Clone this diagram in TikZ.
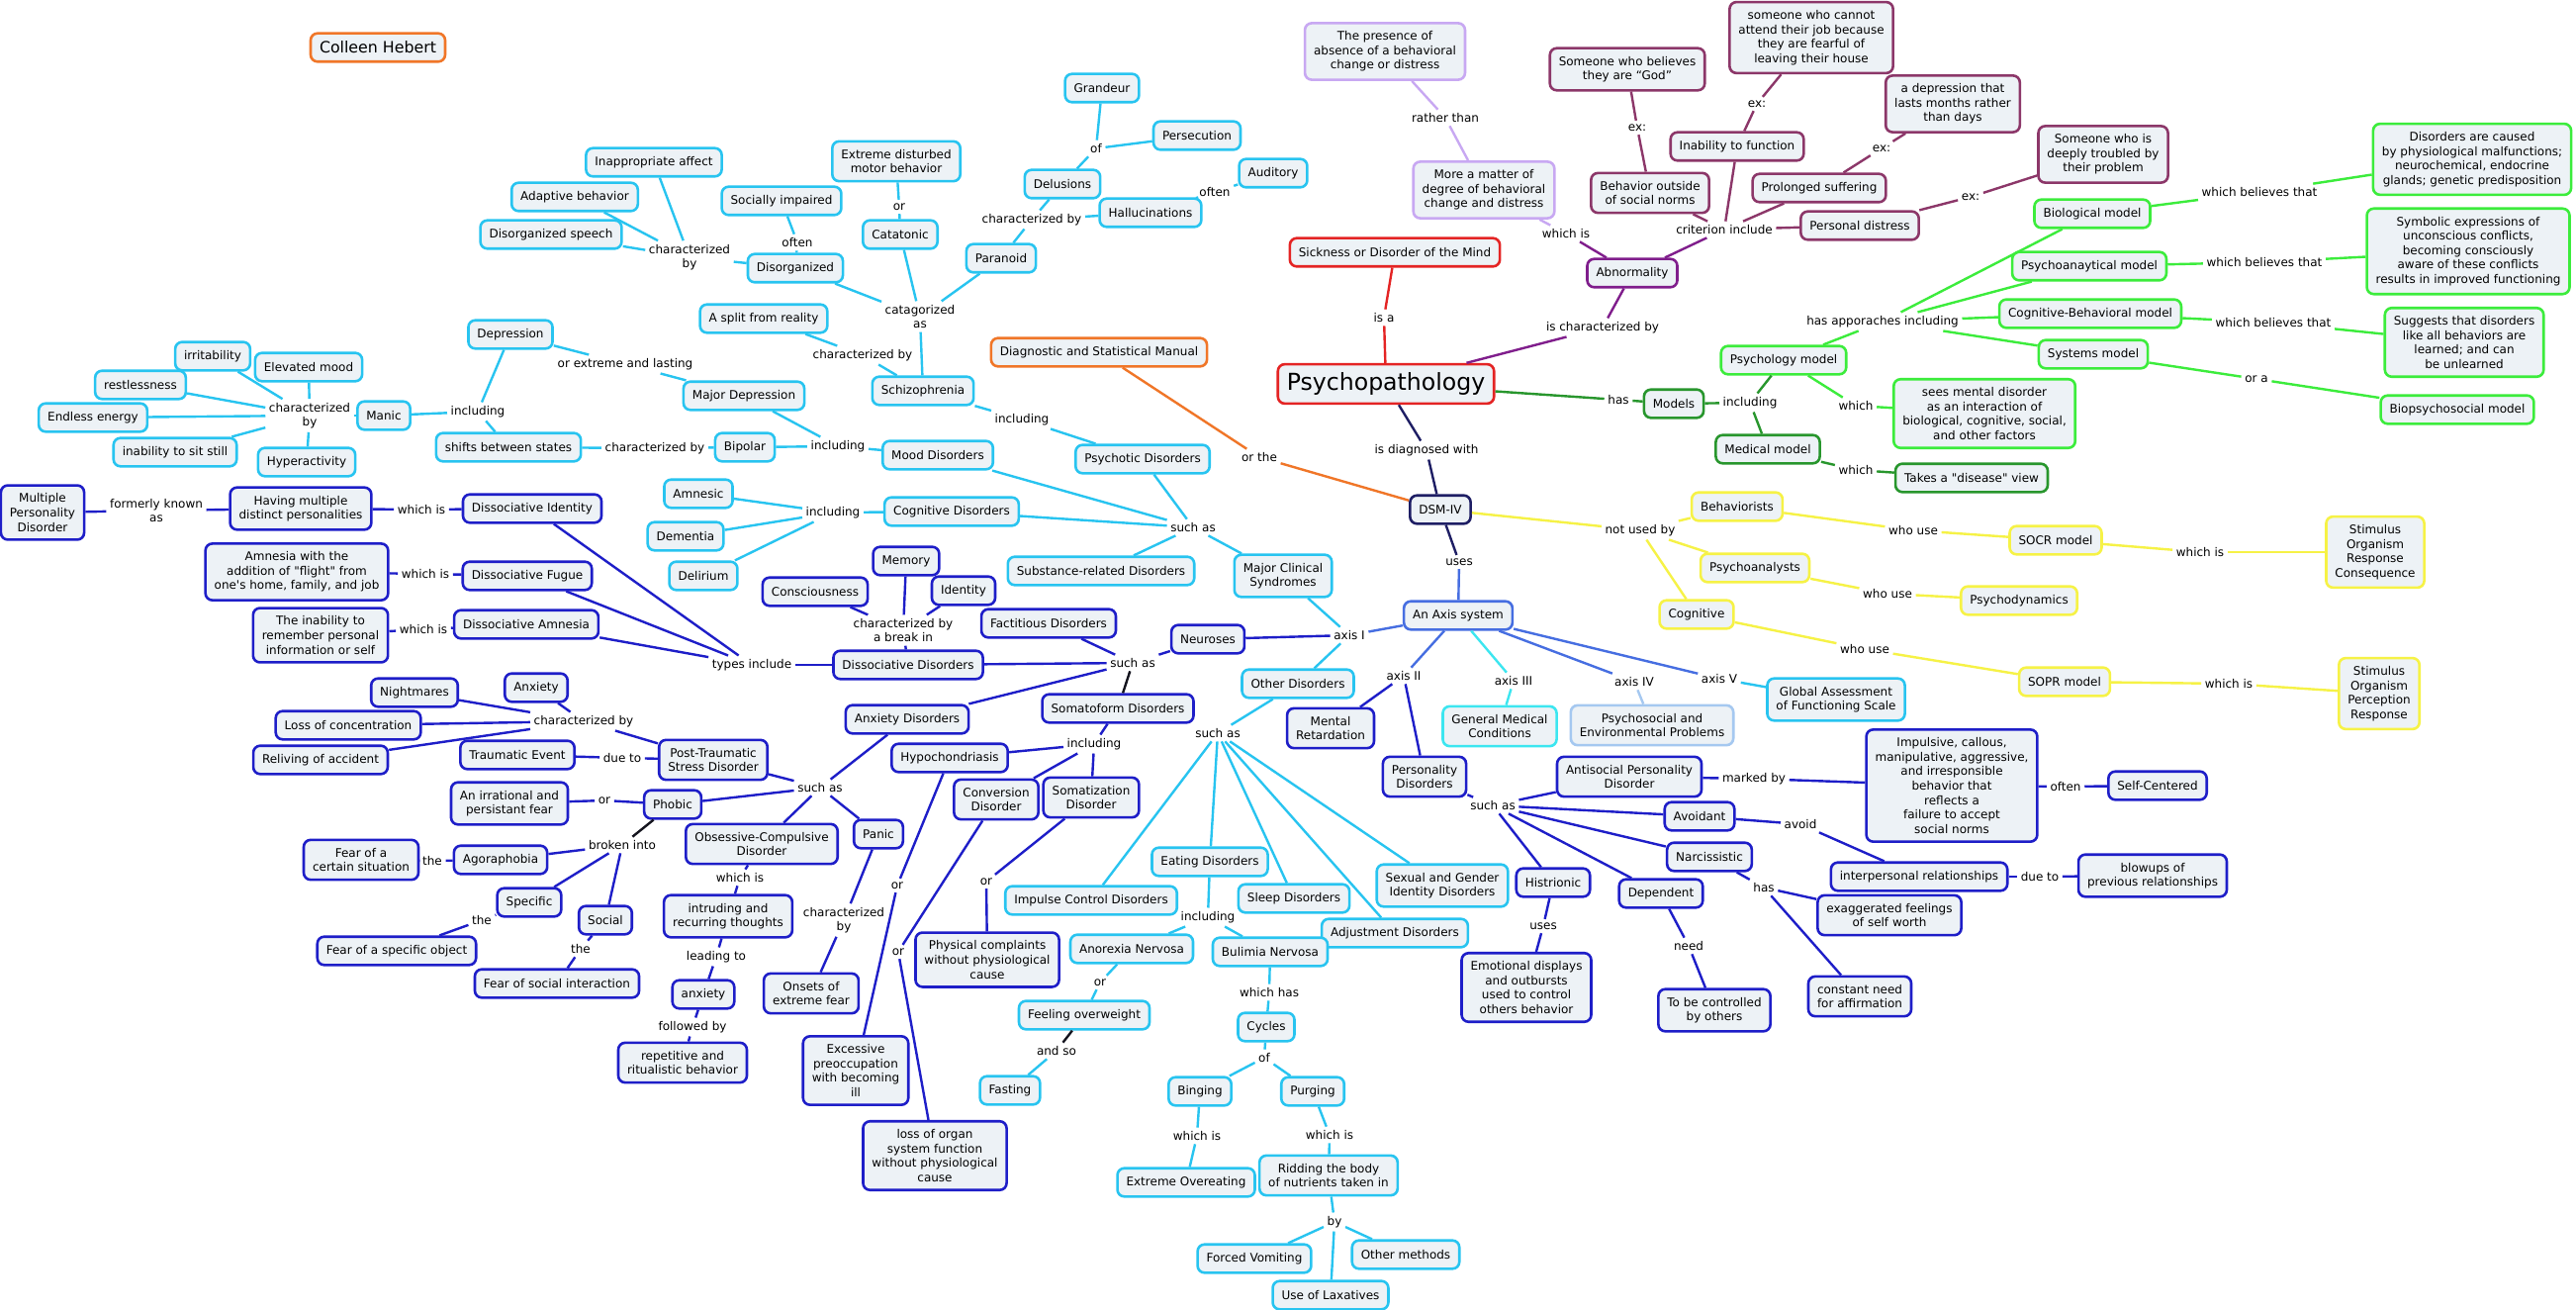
\documentclass[tikz,border=0pt]{standalone}
\usepackage{fontspec}
\setmainfont{DejaVu Sans}
\font\sq="DejaVu Sans" at 12pt
\definecolor{boxfill}{RGB}{237,242,246}
\definecolor{cyanC}{RGB}{40,196,240}
\definecolor{dblueC}{RGB}{30,30,200}
\definecolor{navyC}{RGB}{30,30,100}
\definecolor{royalC}{RGB}{70,110,225}
\definecolor{turqC}{RGB}{60,230,240}
\definecolor{lblueC}{RGB}{165,200,240}
\definecolor{redC}{RGB}{228,36,36}
\definecolor{orangeC}{RGB}{240,118,40}
\definecolor{purpC}{RGB}{128,30,140}
\definecolor{maroonC}{RGB}{140,55,105}
\definecolor{lavC}{RGB}{200,168,242}
\definecolor{greenC}{RGB}{60,236,60}
\definecolor{dgreenC}{RGB}{40,150,45}
\definecolor{yellowC}{RGB}{246,242,70}
\definecolor{blackC}{RGB}{20,20,30}
\newcommand\fsn{\fontsize{12}{14.6}\selectfont}
\tikzset{
 bx/.style={draw, rounded corners=7pt, fill=boxfill, line width=2.6pt, inner xsep=9pt, inner ysep=8.2pt, minimum height=28.6pt, align=center, font=\fsn, text=black},
 bC/.style={bx, draw=cyanC}, bD/.style={bx, draw=dblueC}, bN/.style={bx, draw=navyC},
 bRo/.style={bx, draw=royalC}, bT/.style={bx, draw=turqC}, bL/.style={bx, draw=lblueC},
 bRed/.style={bx, draw=redC}, bO/.style={bx, draw=orangeC}, bP/.style={bx, draw=purpC},
 bM/.style={bx, draw=maroonC}, bV/.style={bx, draw=lavC}, bG/.style={bx, draw=greenC},
 bDG/.style={bx, draw=dgreenC}, bY/.style={bx, draw=yellowC},
 lb/.style={inner sep=3.5pt, align=center, font=\fsn, text=black},
 ln/.style={line width=2.4pt},
 lC/.style={ln, draw=cyanC}, lD/.style={ln, draw=dblueC}, lN/.style={ln, draw=navyC},
 lRo/.style={ln, draw=royalC}, lT/.style={ln, draw=turqC}, lL/.style={ln, draw=lblueC},
 lRed/.style={ln, draw=redC}, lO/.style={ln, draw=orangeC}, lP/.style={ln, draw=purpC},
 lM/.style={ln, draw=maroonC}, lV/.style={ln, draw=lavC}, lG/.style={ln, draw=greenC},
 lDG/.style={ln, draw=dgreenC}, lY/.style={ln, draw=yellowC}, lK/.style={ln, draw=blackC}
}
\newcommand\conn[3]{\draw[#1] (#2) -- (#3);}
\begin{document}
\begin{tikzpicture}[x=1pt,y=-1pt]
\useasboundingbox (0,0) rectangle (2604,1324);
\fill[white] (0,0) rectangle (2604,1324);

% ---------- title
\node[bO, font=\fontsize{15.8}{18}\selectfont, inner ysep=7pt] (colleen) at (382,48) {Colleen Hebert};

% ---------- schizophrenia cluster
\node[bC] (inapp) at (661,164) {Inappropriate affect};
\node[bC] (adapt) at (581,199) {Adaptive behavior};
\node[bC] (dspeech) at (557,237) {Disorganized speech};
\node[lb] (chby1) at (697,260) {characterized\\by};
\node[bC] (socimp) at (790,203) {Socially impaired};
\node[lb] (often1) at (806,245) {often};
\node[bC] (disorg) at (804,271) {Disorganized};
\node[bC] (extreme) at (906,163) {Extreme disturbed\\motor behavior};
\node[lb] (or1) at (909,209) {or};
\node[bC] (catat) at (910,237) {Catatonic};
\node[bC] (grandeur) at (1114,89) {Grandeur};
\node[lb] (of1) at (1108,150) {of};
\node[bC] (persec) at (1210,137) {Persecution};
\node[bC] (delus) at (1074,186) {Delusions};
\node[bC] (auditory) at (1287,175) {Auditory};
\node[lb] (often2) at (1228,194) {often};
\node[bC] (halluc) at (1163,215) {Hallucinations};
\node[lb] (chby2) at (1043,222) {characterized by};
\node[bC] (paranoid) at (1012,261) {Paranoid};
\node[lb] (catas) at (930,320) {catagorized\\as};
\node[bC] (split) at (772,322) {A split from reality};
\node[lb] (chby3) at (872,359) {characterized by};
\node[bC] (schizo) at (933,395) {Schizophrenia};
\node[bO] (dsmman) at (1111,356) {Diagnostic and Statistical Manual};
\node[lb] (incl1) at (1033,424) {including};
\node[bC] (psychotic) at (1155,464) {Psychotic Disorders};
\node[lb] (orthe) at (1273,462) {or the};

% ---------- mood cluster
\node[bC] (depression) at (516,338) {Depression};
\node[lb] (orext) at (632,368) {or extreme and lasting};
\node[bC] (majdep) at (752,400) {Major Depression};
\node[bC] (irrit) at (215,360) {irritability};
\node[bC] (elev) at (312,371) {Elevated mood};
\node[bC] (restless) at (142,389) {restlessness};
\node[bC] (endless) at (94,422) {Endless energy};
\node[lb] (chby4) at (313,420) {characterized\\by};
\node[bC] (manic) at (388,420) {Manic};
\node[lb] (incl2) at (483,416) {including};
\node[bC] (sitstill) at (177,457) {inability to sit still};
\node[bC] (hyper) at (310,467) {Hyperactivity};
\node[bC] (shifts) at (514,452) {shifts between states};
\node[lb] (chby5) at (662,453) {characterized by};
\node[bC] (bipolar) at (753,452) {Bipolar};
\node[lb] (incl3) at (847,451) {including};
\node[bC] (mood) at (948,460) {Mood Disorders};

% ---------- cognitive
\node[bC] (amnesic) at (706,499) {Amnesic};
\node[lb] (incl4) at (842,518) {including};
\node[bC] (cogdis) at (962,517) {Cognitive Disorders};
\node[lb] (suchas1) at (1206,533) {such as};
\node[bC] (dementia) at (693,542) {Dementia};
\node[bC] (delirium) at (711,582) {Delirium};
\node[bC] (substance) at (1113,577) {Substance-related Disorders};
\node[bC] (majclin) at (1297,582) {Major Clinical\\Syndromes};

% ---------- dissociative
\node[bD] (memory) at (916,567) {Memory};
\node[bD] (consc) at (824,598) {Consciousness};
\node[bD] (identity) at (974,597) {Identity};
\node[lb] (break) at (913,637) {characterized by\\a break in};
\node[bD] (factitious) at (1060,630) {Factitious Disorders};
\node[bD] (neuroses) at (1221,646) {Neuroses};
\node[lb] (suchas2) at (1145,670) {such as};
\node[bD] (dissoc) at (918,672) {Dissociative Disorders};
\node[lb] (types) at (760,672) {types include};
\node[bC] (otherdis) at (1312,691) {Other Disorders};
\node[bD] (mpd) at (43,518) {Multiple\\Personality\\Disorder};
\node[lb] (formerly) at (158,516) {formerly known\\as};
\node[bD] (having) at (304,514) {Having multiple\\distinct personalities};
\node[lb] (whichis1) at (426,515) {which is};
\node[bD] (dident) at (538,514) {Dissociative Identity};
\node[bD] (amnflight) at (300,578) {Amnesia with the\\addition of {\sq"}flight{\sq"} from\\one{\sq'}s home, family, and job};
\node[lb] (whichis2) at (430,580) {which is};
\node[bD] (dfugue) at (533,582) {Dissociative Fugue};
\node[bD] (inability) at (324,642) {The inability to\\remember personal\\information or self};
\node[lb] (whichis3) at (428,636) {which is};
\node[bD] (damnesia) at (532,631) {Dissociative Amnesia};

% ---------- anxiety / somatoform
\node[bD] (anxdis) at (917,727) {Anxiety Disorders};
\node[bD] (somato) at (1130,716) {Somatoform Disorders};
\node[lb] (suchas3) at (1231,741) {such as};
\node[lb] (incl5) at (1106,752) {including};
\node[bD] (hypoch) at (960,766) {Hypochondriasis};
\node[bD] (ptsd) at (721,768) {Post-Traumatic\\Stress Disorder};
\node[lb] (suchas4) at (829,796) {such as};
\node[bD] (conversion) at (1007,808) {Conversion\\Disorder};
\node[bD] (somatiz) at (1103,806) {Somatization\\Disorder};
\node[bD] (phobic) at (680,813) {Phobic};
\node[bD] (ocd) at (770,853) {Obsessive-Compulsive\\Disorder};
\node[bD] (panic) at (888,843) {Panic};
\node[bC] (eating) at (1223,871) {Eating Disorders};
\node[bD] (nightmares) at (419,700) {Nightmares};
\node[bD] (anxiety1) at (542,695) {Anxiety};
\node[lb] (chby6) at (590,729) {characterized by};
\node[bD] (lossconc) at (352,733) {Loss of concentration};
\node[bD] (reliving) at (324,768) {Reliving of accident};
\node[bD] (traumatic) at (523,763) {Traumatic Event};
\node[lb] (dueto1) at (629,766) {due to};
\node[bD] (irrational) at (515,812) {An irrational and\\persistant fear};
\node[lb] (or2) at (611,809) {or};
\node[lb] (broken) at (629,854) {broken into};
\node[bD] (fearsit) at (365,869) {Fear of a\\certain situation};
\node[lb] (the1) at (437,870) {the};
\node[bD] (agora) at (506,869) {Agoraphobia};
\node[bD] (specific) at (535,912) {Specific};
\node[lb] (the2) at (487,930) {the};
\node[bD] (social) at (612,930) {Social};
\node[bD] (fearobj) at (401,961) {Fear of a specific object};
\node[lb] (the3) at (587,959) {the};
\node[bD] (fearsoc) at (563,994) {Fear of social interaction};
\node[lb] (whichis4) at (748,887) {which is};
\node[bD] (intruding) at (736,926) {intruding and\\recurring thoughts};
\node[lb] (or3) at (907,895) {or};
\node[lb] (or4) at (997,891) {or};
\node[lb] (chby7) at (853,930) {characterized\\by};
\node[lb] (or5) at (908,962) {or};
\node[lb] (leading) at (724,967) {leading to};
\node[bD] (physical) at (998,970) {Physical complaints\\without physiological\\cause};
\node[bD] (anxiety2) at (711,1005) {anxiety};
\node[bD] (onsets) at (820,1004) {Onsets of\\extreme fear};
\node[lb] (followed) at (700,1038) {followed by};
\node[bD] (repetitive) at (690,1074) {repetitive and\\ritualistic behavior};
\node[bD] (excessive) at (865,1082) {Excessive\\preoccupation\\with becoming\\ill};
\node[bD] (lossorgan) at (945,1168) {loss of organ\\system function\\without physiological\\cause};

% ---------- other disorders
\node[bC] (impulse) at (1103,910) {Impulse Control Disorders};
\node[lb] (incl6) at (1221,927) {including};
\node[bC] (sleep) at (1308,908) {Sleep Disorders};
\node[bC] (sexual) at (1458,895) {Sexual and Gender\\Identity Disorders};
\node[bC] (adjust) at (1410,943) {Adjustment Disorders};
\node[bC] (anorexia) at (1144,959) {Anorexia Nervosa};
\node[bC] (bulimia) at (1284,962) {Bulimia Nervosa};
\node[lb] (or6) at (1112,993) {or};
\node[lb] (whichhas) at (1283,1003) {which has};
\node[bC] (feeling) at (1096,1026) {Feeling overweight};
\node[bC] (cycles) at (1280,1038) {Cycles};
\node[lb] (andso) at (1068,1062) {and so};
\node[lb] (of2) at (1278,1069) {of};
\node[bC] (fasting) at (1021,1102) {Fasting};
\node[bC] (binging) at (1213,1103) {Binging};
\node[bC] (purging) at (1327,1103) {Purging};
\node[lb] (whichis5) at (1210,1148) {which is};
\node[lb] (whichis6) at (1344,1147) {which is};
\node[bC] (overeat) at (1199,1195) {Extreme Overeating};
\node[bC] (ridding) at (1343,1188) {Ridding the body\\of nutrients taken in};
\node[lb] (by) at (1349,1235) {by};
\node[bC] (vomit) at (1268,1272) {Forced Vomiting};
\node[bC] (othermeth) at (1421,1268) {Other methods};
\node[bC] (laxatives) at (1345,1309) {Use of Laxatives};

% ---------- center: psychopathology / DSM / axis
\node[bRed, font=\fontsize{23.6}{28}\selectfont, inner ysep=8.5pt] (psycho) at (1401,388) {Psychopathology};
\node[lb] (diag) at (1442,455) {is diagnosed with};
\node[bN] (dsm) at (1456,515) {DSM-IV};
\node[lb] (uses1) at (1475,568) {uses};
\node[bRo] (axis) at (1474,622) {An Axis system};
\node[lb] (ax1) at (1364,642) {axis I};
\node[lb] (ax2) at (1419,683) {axis II};
\node[lb] (ax3) at (1530,688) {axis III};
\node[lb] (ax4) at (1652,689) {axis IV};
\node[lb] (ax5) at (1738,686) {axis V};
\node[bC] (global) at (1856,707) {Global Assessment\\of Functioning Scale};
\node[bD] (mental) at (1345,736) {Mental\\Retardation};
\node[bT] (genmed) at (1516,734) {General Medical\\Conditions};
\node[bL] (psychosoc) at (1670,733) {Psychosocial and\\Environmental Problems};
\node[bD] (persdis) at (1440,785) {Personality\\Disorders};
\node[bD] (antisoc) at (1647,785) {Antisocial Personality\\Disorder};
\node[lb] (marked) at (1773,787) {marked by};
\node[lb] (suchas5) at (1509,814) {such as};
\node[bD] (avoidant) at (1718,825) {Avoidant};
\node[lb] (avoid) at (1820,833) {avoid};
\node[bD] (impulsive) at (1973,794) {Impulsive, callous,\\manipulative, aggressive,\\and irresponsible\\behavior that\\reflects a\\failure to accept\\social norms};
\node[bD] (narciss) at (1728,866) {Narcissistic};
\node[lb] (often3) at (2088,795) {often};
\node[bD] (selfc) at (2181,794) {Self-Centered};
\node[bD] (interp) at (1940,886) {interpersonal relationships};
\node[lb] (dueto2) at (2062,886) {due to};
\node[bD] (blowups) at (2176,885) {blowups of\\previous relationships};
\node[bD] (exagg) at (1910,925) {exaggerated feelings\\of self worth};
\node[lb] (has2) at (1783,897) {has};
\node[bD] (constant) at (1880,1007) {constant need\\for affirmation};
\node[bD] (histrionic) at (1570,892) {Histrionic};
\node[bD] (dependent) at (1679,903) {Dependent};
\node[lb] (uses2) at (1560,936) {uses};
\node[bD] (emotional) at (1543,998) {Emotional displays\\and outbursts\\used to control\\others behavior};
\node[lb] (need) at (1707,956) {need};
\node[bD] (controlled) at (1733,1021) {To be controlled\\by others};

% ---------- yellow
\node[bY] (behav) at (1756,512) {Behaviorists};
\node[lb] (notused) at (1658,536) {not used by};
\node[lb] (whouse1) at (1934,536) {who use};
\node[bY] (socr) at (2078,546) {SOCR model};
\node[lb] (whichis7) at (2224,558) {which is};
\node[bY] (stimresp) at (2401,558) {Stimulus\\Organism\\Response\\Consequence};
\node[bY] (psychoan) at (1774,574) {Psychoanalysts};
\node[lb] (whouse2) at (1908,600) {who use};
\node[bY] (psychodyn) at (2041,607) {Psychodynamics};
\node[bY] (cognitive) at (1715,621) {Cognitive};
\node[lb] (whouse3) at (1885,656) {who use};
\node[bY] (sopr) at (2087,689) {SOPR model};
\node[lb] (whichis8) at (2253,691) {which is};
\node[bY] (stimperc) at (2405,701) {Stimulus\\Organism\\Perception\\Response};

% ---------- abnormality
\node[bV] (presence) at (1400,52) {The presence of\\absence of a behavioral\\change or distress};
\node[lb] (rather) at (1461,119) {rather than};
\node[bV] (matter) at (1500,192) {More a matter of\\degree of behavioral\\change and distress};
\node[lb] (whichis9) at (1583,236) {which is};
\node[bRed] (sickness) at (1410,255) {Sickness or Disorder of the Mind};
\node[bP] (abnorm) at (1650,276) {Abnormality};
\node[lb] (isa) at (1399,321) {is a};
\node[lb] (ischar) at (1620,331) {is characterized by};
\node[bM] (god) at (1645,70) {Someone who believes\\they are “God”};
\node[lb] (ex1) at (1655,129) {ex:};
\node[bM] (behout) at (1668,195) {Behavior outside\\of social norms};
\node[bM] (cannot) at (1831,38) {someone who cannot\\attend their job because\\they are fearful of\\leaving their house};
\node[lb] (ex2) at (1776,105) {ex:};
\node[bM] (inabfunc) at (1756,148) {Inability to function};
\node[bM] (depr2) at (1974,105) {a depression that\\lasts months rather\\than days};
\node[lb] (ex3) at (1902,150) {ex:};
\node[bM] (prolonged) at (1839,190) {Prolonged suffering};
\node[lb] (crit) at (1743,232) {criterion include};
\node[bM] (persdist) at (1880,228) {Personal distress};
\node[bM] (troubled) at (2126,156) {Someone who is\\deeply troubled by\\their problem};
\node[lb] (ex4) at (1992,199) {ex:};

% ---------- models
\node[lb] (has1) at (1636,404) {has};
\node[bDG] (models) at (1692,408) {Models};
\node[lb] (incl7) at (1769,407) {including};
\node[bG] (psymodel) at (1803,364) {Psychology model};
\node[lb] (which1) at (1876,410) {which};
\node[bG] (sees) at (2006,418) {sees mental disorder\\as an interaction of\\biological, cognitive, social,\\and other factors};
\node[bDG] (medmodel) at (1787,454) {Medical model};
\node[lb] (which2) at (1876,475) {which};
\node[bDG] (takes) at (1993,483) {Takes a {\sq"}disease{\sq"} view};
\node[lb] (hasapp) at (1903,325) {has apporaches including};
\node[bG] (bio) at (2115,216) {Biological model};
\node[lb] (wbt1) at (2284,194) {which believes that};
\node[bG] (disorders) at (2499,161) {Disorders are caused\\by physiological malfunctions;\\neurochemical, endocrine\\glands; genetic predisposition};
\node[bG] (psychoanay) at (2112,269) {Psychoanaytical model};
\node[lb] (wbt2) at (2289,265) {which believes that};
\node[bG] (symbolic) at (2495,254) {Symbolic expressions of\\unconscious conflicts,\\becoming consciously\\aware of these conflicts\\results in improved functioning};
\node[bG] (cogbeh) at (2113,317) {Cognitive-Behavioral model};
\node[lb] (wbt3) at (2298,326) {which believes that};
\node[bG] (suggests) at (2491,346) {Suggests that disorders\\like all behaviors are\\learned; and can\\be unlearned};
\node[bG] (systems) at (2116,358) {Systems model};
\node[lb] (ora) at (2281,383) {or a};
\node[bG] (biopsy) at (2484,414) {Biopsychosocial model};

% ================= connectors
% schizophrenia
\conn{lC}{disorg}{chby1} \conn{lC}{chby1}{inapp} \conn{lC}{chby1}{adapt} \conn{lC}{chby1}{dspeech}
\conn{lC}{disorg}{often1} \conn{lC}{often1}{socimp}
\conn{lC}{catat}{or1} \conn{lC}{or1}{extreme}
\conn{lC}{paranoid}{chby2} \conn{lC}{chby2}{delus} \conn{lC}{chby2}{halluc}
\conn{lC}{delus}{of1} \conn{lC}{of1}{grandeur} \conn{lC}{of1}{persec}
\conn{lC}{halluc}{often2} \conn{lC}{often2}{auditory}
\conn{lC}{schizo}{catas} \conn{lC}{catas}{disorg} \conn{lC}{catas}{catat} \conn{lC}{catas}{paranoid}
\conn{lC}{schizo}{chby3} \conn{lC}{chby3}{split}
\conn{lC}{psychotic}{incl1} \conn{lC}{incl1}{schizo}
% mood
\conn{lC}{mood}{incl3} \conn{lC}{incl3}{bipolar} \conn{lC}{incl3}{majdep}
\conn{lC}{bipolar}{chby5} \conn{lC}{chby5}{shifts}
\conn{lC}{shifts}{incl2} \conn{lC}{incl2}{manic} \conn{lC}{incl2}{depression}
\conn{lC}{depression}{orext} \conn{lC}{orext}{majdep}
\conn{lC}{manic}{chby4} \conn{lC}{chby4}{irrit} \conn{lC}{chby4}{elev} \conn{lC}{chby4}{restless}
\conn{lC}{chby4}{endless} \conn{lC}{chby4}{sitstill} \conn{lC}{chby4}{hyper}
% cognitive
\conn{lC}{cogdis}{incl4} \conn{lC}{incl4}{amnesic} \conn{lC}{incl4}{dementia} \conn{lC}{incl4}{delirium}
\conn{lC}{majclin}{suchas1} \conn{lC}{suchas1}{psychotic} \conn{lC}{suchas1}{mood}
\conn{lC}{suchas1}{cogdis} \conn{lC}{suchas1}{substance}
% axis I
\conn{lRo}{axis}{ax1} \conn{lC}{ax1}{majclin} \conn{lC}{ax1}{otherdis} \conn{lD}{ax1}{neuroses}
\conn{lD}{neuroses}{suchas2} \conn{lD}{suchas2}{factitious} \conn{lD}{suchas2}{dissoc}
\conn{lD}{suchas2}{anxdis} \conn{lK}{suchas2}{somato}
\conn{lD}{dissoc}{break} \conn{lD}{break}{consc} \conn{lD}{break}{memory} \conn{lD}{break}{identity}
\conn{lD}{dissoc}{types} \conn{lD}{types}{dident} \conn{lD}{types}{dfugue} \conn{lD}{types}{damnesia}
\conn{lD}{dident}{whichis1} \conn{lD}{whichis1}{having}
\conn{lD}{having}{formerly} \conn{lD}{formerly}{mpd}
\conn{lD}{dfugue}{whichis2} \conn{lD}{whichis2}{amnflight}
\conn{lD}{damnesia}{whichis3} \conn{lD}{whichis3}{inability}
% anxiety
\conn{lD}{anxdis}{suchas4} \conn{lD}{suchas4}{ptsd} \conn{lD}{suchas4}{phobic}
\conn{lD}{suchas4}{ocd} \conn{lD}{suchas4}{panic}
\conn{lD}{ptsd}{chby6} \conn{lD}{chby6}{nightmares} \conn{lD}{chby6}{anxiety1}
\conn{lD}{chby6}{lossconc} \conn{lD}{chby6}{reliving}
\conn{lD}{ptsd}{dueto1} \conn{lD}{dueto1}{traumatic}
\conn{lD}{phobic}{or2} \conn{lD}{or2}{irrational}
\conn{lK}{phobic}{broken} \conn{lD}{broken}{agora} \conn{lD}{broken}{specific} \conn{lD}{broken}{social}
\conn{lD}{agora}{the1} \conn{lD}{the1}{fearsit}
\conn{lD}{specific}{the2} \conn{lD}{the2}{fearobj}
\conn{lD}{social}{the3} \conn{lD}{the3}{fearsoc}
\conn{lD}{ocd}{whichis4} \conn{lD}{whichis4}{intruding}
\conn{lD}{intruding}{leading} \conn{lD}{leading}{anxiety2}
\conn{lD}{anxiety2}{followed} \conn{lD}{followed}{repetitive}
\conn{lD}{panic}{chby7} \conn{lD}{chby7}{onsets}
% somatoform
\conn{lD}{somato}{incl5} \conn{lD}{incl5}{hypoch} \conn{lD}{incl5}{conversion} \conn{lD}{incl5}{somatiz}
\conn{lD}{hypoch}{or3} \conn{lD}{or3}{excessive}
\conn{lD}{conversion}{or5} \conn{lD}{or5}{lossorgan}
\conn{lD}{somatiz}{or4} \conn{lD}{or4}{physical}
% other disorders
\conn{lC}{otherdis}{suchas3} \conn{lC}{suchas3}{impulse} \conn{lC}{suchas3}{eating}
\conn{lC}{suchas3}{sleep} \conn{lC}{suchas3}{sexual} \conn{lC}{suchas3}{adjust}
\conn{lC}{eating}{incl6} \conn{lC}{incl6}{anorexia} \conn{lC}{incl6}{bulimia}
\conn{lC}{anorexia}{or6} \conn{lC}{or6}{feeling}
\conn{lK}{feeling}{andso} \conn{lC}{andso}{fasting}
\conn{lC}{bulimia}{whichhas} \conn{lC}{whichhas}{cycles}
\conn{lC}{cycles}{of2} \conn{lC}{of2}{binging} \conn{lC}{of2}{purging}
\conn{lC}{binging}{whichis5} \conn{lC}{whichis5}{overeat}
\conn{lC}{purging}{whichis6} \conn{lC}{whichis6}{ridding}
\conn{lC}{ridding}{by} \conn{lC}{by}{vomit} \conn{lC}{by}{othermeth} \conn{lC}{by}{laxatives}
% axis II - V
\conn{lRo}{axis}{ax2} \conn{lD}{ax2}{mental} \conn{lD}{ax2}{persdis}
\conn{lT}{axis}{ax3} \conn{lT}{ax3}{genmed}
\conn{lRo}{axis}{ax4} \conn{lL}{ax4}{psychosoc}
\conn{lRo}{axis}{ax5} \conn{lC}{ax5}{global}
\conn{lD}{persdis}{suchas5} \conn{lD}{suchas5}{antisoc} \conn{lD}{suchas5}{avoidant}
\conn{lD}{suchas5}{narciss} \conn{lD}{suchas5}{dependent} \conn{lD}{suchas5}{histrionic}
\conn{lD}{antisoc}{marked} \conn{lD}{marked}{impulsive}
\conn{lD}{impulsive}{often3} \conn{lD}{often3}{selfc}
\conn{lD}{avoidant}{avoid} \conn{lD}{avoid}{interp}
\conn{lD}{interp}{dueto2} \conn{lD}{dueto2}{blowups}
\conn{lD}{narciss}{has2} \conn{lD}{has2}{exagg} \conn{lD}{has2}{constant}
\conn{lD}{histrionic}{uses2} \conn{lD}{uses2}{emotional}
\conn{lD}{dependent}{need} \conn{lD}{need}{controlled}
% DSM
\conn{lN}{psycho}{diag} \conn{lN}{diag}{dsm}
\conn{lN}{dsm}{uses1} \conn{lRo}{uses1}{axis}
\conn{lO}{dsm}{orthe} \conn{lO}{orthe}{dsmman}
\conn{lY}{dsm}{notused} \conn{lY}{notused}{behav} \conn{lY}{notused}{psychoan} \conn{lY}{notused}{cognitive}
\conn{lY}{behav}{whouse1} \conn{lY}{whouse1}{socr}
\conn{lY}{socr}{whichis7} \conn{lY}{whichis7}{stimresp}
\conn{lY}{psychoan}{whouse2} \conn{lY}{whouse2}{psychodyn}
\conn{lY}{cognitive}{whouse3} \conn{lY}{whouse3}{sopr}
\conn{lY}{sopr}{whichis8} \conn{lY}{whichis8}{stimperc}
% abnormality
\conn{lRed}{psycho}{isa} \conn{lRed}{isa}{sickness}
\conn{lP}{psycho}{ischar} \conn{lP}{ischar}{abnorm}
\conn{lP}{abnorm}{whichis9} \conn{lV}{whichis9}{matter}
\conn{lV}{matter}{rather} \conn{lV}{rather}{presence}
\conn{lP}{abnorm}{crit} \conn{lM}{crit}{behout} \conn{lM}{crit}{inabfunc}
\conn{lM}{crit}{prolonged} \conn{lM}{crit}{persdist}
\conn{lM}{behout}{ex1} \conn{lM}{ex1}{god}
\conn{lM}{inabfunc}{ex2} \conn{lM}{ex2}{cannot}
\conn{lM}{prolonged}{ex3} \conn{lM}{ex3}{depr2}
\conn{lM}{persdist}{ex4} \conn{lM}{ex4}{troubled}
% models
\conn{lDG}{psycho}{has1} \conn{lDG}{has1}{models}
\conn{lDG}{models}{incl7} \conn{lDG}{incl7}{psymodel} \conn{lDG}{incl7}{medmodel}
\conn{lG}{psymodel}{which1} \conn{lG}{which1}{sees}
\conn{lDG}{medmodel}{which2} \conn{lDG}{which2}{takes}
\conn{lG}{psymodel}{hasapp} \conn{lG}{hasapp}{bio} \conn{lG}{hasapp}{psychoanay}
\conn{lG}{hasapp}{cogbeh} \conn{lG}{hasapp}{systems}
\conn{lG}{bio}{wbt1} \conn{lG}{wbt1}{disorders}
\conn{lG}{psychoanay}{wbt2} \conn{lG}{wbt2}{symbolic}
\conn{lG}{cogbeh}{wbt3} \conn{lG}{wbt3}{suggests}
\conn{lG}{systems}{ora} \conn{lG}{ora}{biopsy}
\end{tikzpicture}
\end{document}
